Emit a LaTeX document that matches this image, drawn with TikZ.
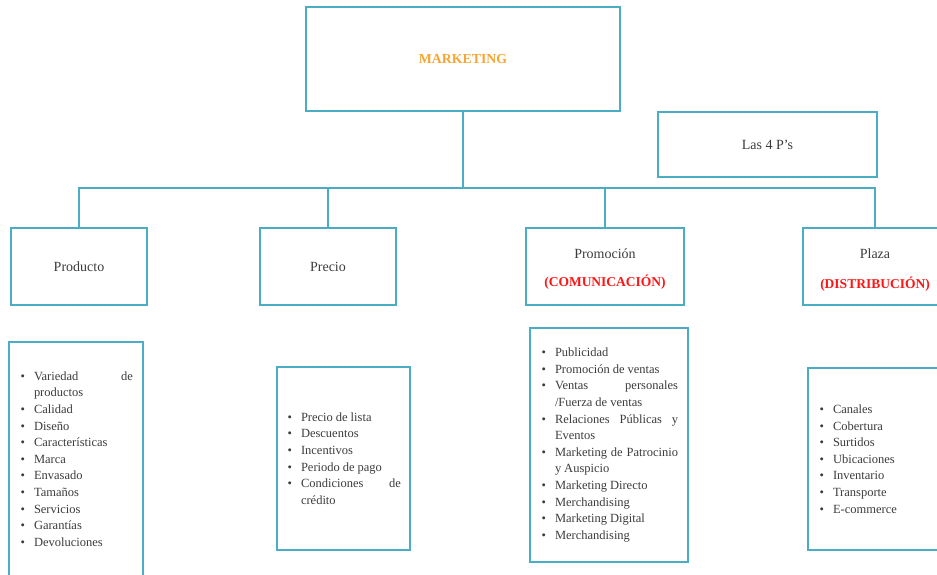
\documentclass[tikz,border=0pt]{standalone}
\usepackage{fontspec}
\setmainfont{Liberation Serif}
\usepackage{enumitem}
\usetikzlibrary{positioning}

\definecolor{borde}{RGB}{75,172,198}
\definecolor{naranja}{RGB}{247,165,50}
\definecolor{texto}{RGB}{60,60,60}
\definecolor{rojo}{RGB}{255,20,20}
\hyphenpenalty=10000
\exhyphenpenalty=10000

% lista con vinetas justificada
\newcommand{\puntos}[2]{\begin{minipage}{#1pt}\fontsize{12.5}{16.6}\selectfont
\spaceskip=3pt plus 40pt minus 1pt
\begin{itemize}[leftmargin=15pt,labelsep=9pt,itemsep=0pt,parsep=0pt,topsep=0pt,partopsep=0pt]#2\end{itemize}\end{minipage}}

\begin{document}
\begin{tikzpicture}[x=1pt,y=-1pt,
  caja/.style={draw=borde, line width=1.8pt, minimum height=77pt, text=texto,
    font=\fontsize{14}{16}\selectfont, align=center, inner sep=2pt},
  lista/.style={draw=borde, line width=1.8pt, text=texto, inner sep=0pt},
  enlace/.style={draw=borde, line width=1.8pt}]
\clip (0,0) rectangle (937,574);
% cajas de arriba
\node[caja, minimum width=314pt, minimum height=104pt, text=naranja,
  font=\fontsize{13.8}{16}\selectfont\bfseries] (mkt) at (463,59) {MARKETING};
\node[caja, minimum width=219pt, minimum height=65pt] (cuatro) at (767.5,144.5) {Las 4 P's};
\node[caja, minimum width=136pt] (prod) at (79,266.5) {Producto};
\node[caja, minimum width=136pt] (prec) at (328,266.5) {Precio};
\node[caja, minimum width=158pt] (prom) at (605,266.5)
  {\rule{0pt}{15.6pt}Promoción\\[12pt]\textcolor{rojo}{\fontsize{13.5}{16}\selectfont\bfseries (COMUNICACIÓN)}};
\node[caja, minimum width=144pt] (plaza) at (875,266.5)
  {\rule{0pt}{17.5pt}Plaza\\[14pt]\textcolor{rojo}{\fontsize{13.5}{16}\selectfont\bfseries (DISTRIBUCIÓN)}};
% conectores
\coordinate (barra) at (463,188);
\draw[enlace] (mkt.south) -- (barra);
\draw[enlace] (prod.north) |- (barra) -| (plaza.north);
\draw[enlace] (prec.north) -- (prec.north |- barra);
\draw[enlace] (prom.north) -- (prom.north |- barra);
% listas
\node[lista, minimum width=134pt, minimum height=234pt] (lprod) at (76,459)
  {\puntos{114}{\item Variedad de productos \item Calidad \item Diseño
   \item Características \item Marca \item Envasado \item Tamaños
   \item Servicios \item Garantías \item Devoluciones}};
\node[lista, minimum width=133pt, minimum height=183pt] (lprec) at (343.5,458.5)
  {\puntos{115}{\item Precio de lista \item Descuentos \item Incentivos
   \item Periodo de pago \item Condiciones de crédito}};
\node[lista, minimum width=158pt, minimum height=234pt] (lprom) at (609,445)
  {\puntos{138}{\item Publicidad \item Promoción de ventas
   \item Ventas personales /Fuerza de ventas \item Relaciones Públicas y Eventos
   \item Marketing de Patrocinio y Auspicio \item Marketing Directo
   \item Merchandising \item Marketing Digital \item Merchandising}};
\node[lista, minimum width=134pt, minimum height=182pt] (lplaza) at (875,459)
  {\puntos{114}{\item Canales \item Cobertura \item Surtidos \item Ubicaciones
   \item Inventario \item Transporte \item E-commerce}};
\end{tikzpicture}
\end{document}
